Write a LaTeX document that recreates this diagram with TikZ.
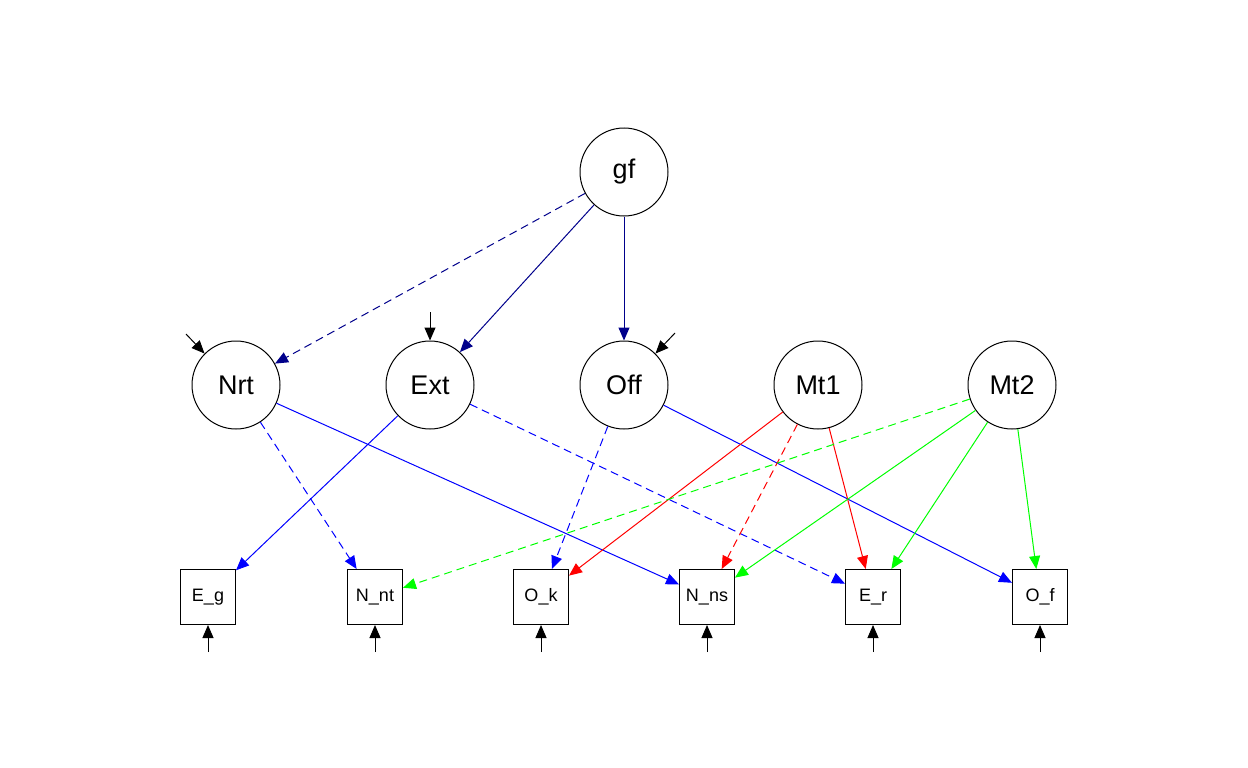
\documentclass[tikz,border=0pt]{standalone}
\usepackage{fontspec}
\setmainfont{Liberation Sans}
\usetikzlibrary{arrows.meta}
\definecolor{navy}{RGB}{0,0,139}
\definecolor{pblue}{RGB}{0,0,255}
\definecolor{pred}{RGB}{255,0,0}
\definecolor{pgreen}{RGB}{0,255,0}
\begin{document}
\begin{tikzpicture}[x=1pt,y=-1pt,
 lat/.style={circle,draw,line width=1pt,minimum size=88pt,inner sep=0pt,font=\fontsize{27}{30}\selectfont},
 man/.style={rectangle,draw,line width=1pt,minimum size=55pt,inner sep=0pt,font=\fontsize{18}{20}\selectfont},
 edge/.style={line width=1pt,-{Triangle[length=13pt,width=11pt]}},
 dsh/.style={dash pattern=on 8pt off 5pt},
 res/.style={edge,black}]
\useasboundingbox (0,0) rectangle (1248,768);
\node[lat] (gf) at (624,172) {gf};
\node[lat] (nrt) at (236,385) {Nrt};
\node[lat] (ext) at (430,385) {Ext};
\node[lat] (off) at (624,385) {Off};
\node[lat] (mt1) at (818,385) {Mt1};
\node[lat] (mt2) at (1012,385) {Mt2};
\node[man] (eg) at (208,597) {E\_g};
\node[man] (nnt) at (375,597) {N\_nt};
\node[man] (ok) at (541,597) {O\_k};
\node[man] (nns) at (707,597) {N\_ns};
\node[man] (er) at (873,597) {E\_r};
\node[man] (of) at (1040,597) {O\_f};
% residual start points
\coordinate (rnrt) at (186,334);
\coordinate (rext) at (430,312);
\coordinate (roff) at (675,333);
\coordinate (reg) at (208,652);
\coordinate (rnnt) at (375,652);
\coordinate (rok) at (541,652);
\coordinate (rnns) at (707,652);
\coordinate (rer) at (873,652);
\coordinate (rof) at (1040,652);
\draw[res] (rnrt) -- (nrt.135);
\draw[res] (rext) -- (ext.90);
\draw[res] (roff) -- (off.45);
\draw[res] (reg) -- (eg.south);
\draw[res] (rnnt) -- (nnt.south);
\draw[res] (rok) -- (ok.south);
\draw[res] (rnns) -- (nns.south);
\draw[res] (rer) -- (er.south);
\draw[res] (rof) -- (of.south);
% gf loadings
\draw[edge,navy,dsh] (gf) -- (nrt);
\draw[edge,navy] (gf) -- (ext);
\draw[edge,navy] (gf) -- (off);
% group factors
\draw[edge,pblue] (nrt) -- (nns);
\draw[edge,pblue,dsh] (nrt) -- (nnt);
\draw[edge,pblue] (ext) -- (eg);
\draw[edge,pblue,dsh] (ext) -- (er);
\draw[edge,pblue,dsh] (off) -- (ok);
\draw[edge,pblue] (off) -- (of);
% method factors
\draw[edge,pred] (mt1) -- (ok);
\draw[edge,pred,dsh] (mt1) -- (nns);
\draw[edge,pred] (mt1) -- (er);
\draw[edge,pgreen,dsh] (mt2) -- (nnt);
\draw[edge,pgreen] (mt2) -- (nns);
\draw[edge,pgreen] (mt2) -- (er);
\draw[edge,pgreen] (mt2) -- (of);
\end{tikzpicture}
\end{document}
